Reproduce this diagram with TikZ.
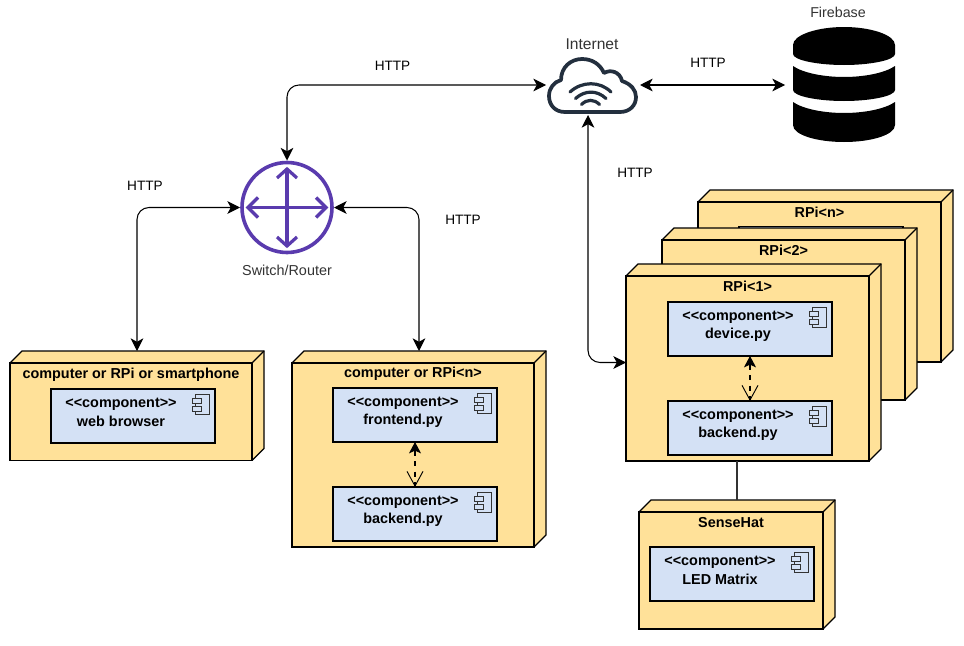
\documentclass[tikz,border=0pt]{standalone}
\usepackage{fontspec}
\setmainfont{Liberation Sans}[Ligatures=NoCommon]
\usetikzlibrary{arrows.meta,fit,calc}
\definecolor{nodeyellow}{HTML}{FFE199}
\definecolor{compblue}{HTML}{D4E1F5}
\definecolor{cloudink}{HTML}{232F3E}
\definecolor{routerink}{HTML}{5A3BAE}
\definecolor{softink}{HTML}{333333}
\tikzset{
  x=0.75pt,y=-0.75pt,
  every node/.style={inner sep=0pt,outer sep=0pt},
  frontface/.style={draw=black,fill=nodeyellow,line width=0.95pt,line join=miter},
  compbox/.style={draw=black,fill=compblue,line width=0.95pt},
  anchorbox/.style={inner sep=0pt,outer sep=0pt},
  icon/.style={draw=softink,fill=compblue,line width=0.75pt},
  boldlab/.style={font=\fontsize{10.8pt}{12pt}\selectfont\bfseries,align=center},
  plainlab/.style={font=\fontsize{10.2pt}{12pt}\selectfont,text=softink},
  httplab/.style={font=\fontsize{10.2pt}{12pt}\selectfont,text=black},
  link/.style={draw=black,line width=0.8pt,{Stealth[length=9.5pt,width=9.5pt,inset=2.6pt]}-{Stealth[length=9.5pt,width=9.5pt,inset=2.6pt]},rounded corners=9pt},
  selfdep/.style={draw=black,line width=0.8pt,dash pattern=on 4pt off 4pt,{Stealth[length=8.5pt,width=9pt,inset=2pt]}-{Straight Barb[length=11pt,width=12pt,line width=0.7pt]}},
  plainlink/.style={draw=softink,line width=0.8pt},
}
% [label offset], name, left, top, right, bottom, label
\newcommand{\depl}[7][10.5]{%
  \fill[nodeyellow] (#3,#4) -- (#3+12,#4-12) -- (#5+12,#4-12) -- (#5+12,#6-12) -- (#5,#6) -- cycle;
  \draw[frontface,fill=none] (#3,#4) -- (#3+12,#4-12) -- (#5+12,#4-12) -- (#5+12,#6-12) -- (#5,#6);
  \draw[frontface,fill=none] (#5,#4) -- (#5+12,#4-12);
  \draw[frontface] (#3,#4) rectangle (#5,#6);
  \node[anchorbox,fit={(#3,#4-12) (#5+12,#6)}] (#2) {};
  \node[boldlab] (#2lab) at ({(#3+#5)/2},#4+#1) {#7};
}
% name, left, top, second text
\newcommand{\comp}[4]{%
  \node[compbox,anchor=north west,minimum width=123pt,minimum height=40.5pt] (#1) at (#2,#3) {};
  \node[boldlab] (#1a) at (#2+70,#3+15.5) {{<}{<}component{>}{>}};
  \node[boldlab] (#1b) at (#2+70,#3+32.5) {#4};
  \draw[icon] (#2+144,#3+5) rectangle (#2+158,#3+25);
  \draw[icon] (#2+141,#3+9) rectangle (#2+150,#3+14);
  \draw[icon] (#2+141,#3+17) rectangle (#2+150,#3+22);
}
\begin{document}
\begin{tikzpicture}
\useasboundingbox (0,0) rectangle (964,646);
\fill[white] (0,0) rectangle (964,646);

% RPi stack, back to front
\depl{rpin}{698}{202}{941}{362}{RPi<n>}
\draw[compbox] (739,226.5) rectangle (903,300);
\depl{rpitwo}{662}{240}{905}{400}{RPi<2>}
\depl{rpione}{626}{276}{869}{461}{RPi<1>}
\comp{device}{668}{302}{device.py}
\comp{backb}{668}{401}{backend.py}

% left nodes
\depl[12]{web}{10}{363}{252}{460.5}{computer or RPi or smartphone}
\comp{browser}{51}{389}{web browser}
\depl{comp}{292}{363}{534}{547}{computer or RPi<n>}
\comp{front}{333}{388}{frontend.py}
\comp{backa}{333}{487}{backend.py}

% SenseHat
\depl{sense}{639}{512}{823}{629}{SenseHat}
\comp{led}{650}{547}{LED Matrix}

% Router
\node[circle,draw=routerink,line width=2.7pt,minimum size=67.5pt,outer sep=1.5pt] (router) at (287,207.5) {};
\draw[routerink,line width=2.4pt] (287,169) -- (287,246) (248,207.5) -- (326,207.5);
\draw[routerink,line width=2.4pt] (277,178) -- (287,169) -- (297,178)
  (277,237) -- (287,246) -- (297,237)
  (258,197.5) -- (248,207.5) -- (258,217.5)
  (316,197.5) -- (326,207.5) -- (316,217.5);
\node[plainlab,font=\fontsize{10.8pt}{12pt}\selectfont] (routerlab) at (287,270) {Switch/Router};

% Cloud
\node[anchorbox,fit={(546,55) (640,115)}] (net) {};
\coordinate (netbottom) at ([xshift=-3.75pt]net.south);
\draw[cloudink,line width=2.8pt,line join=round]
  (565,112) .. controls (555,112) and (549,105) .. (549,96)
  .. controls (549,88) and (554,82) .. (561,80)
  .. controls (561,67) and (571,59) .. (582,59)
  .. controls (592,59) and (600,64) .. (604,73)
  .. controls (611,69) and (620,72) .. (622,81)
  .. controls (631,84) and (636,90) .. (636,97)
  .. controls (636,106) and (629,112) .. (620,112) -- cycle;
\draw[cloudink,line width=2.4pt,line cap=round]
  (570,92) .. controls (582,81) and (600,81) .. (611,92)
  (575.5,98.5) .. controls (585,90) and (597,90) .. (606,98.5)
  (581.5,104.5) .. controls (587,99) and (594,99) .. (599.5,104.5);
\node[plainlab,font=\fontsize{11.7pt}{12pt}\selectfont] (netlab) at (592,44) {Internet};

% Firebase database
\node[anchorbox,fit={(785,27) (903,142)}] (db) {};
\fill[black] (793,45) .. controls (793,35) and (817,27) .. (844,27)
  .. controls (871,27) and (895,35) .. (895,45) -- (895,54)
  .. controls (895,60) and (871,65) .. (844,65)
  .. controls (817,65) and (793,60) .. (793,54) -- cycle;
\fill[black] (793,66) .. controls (803,73) and (824,77) .. (844,77)
  .. controls (864,77) and (885,73) .. (895,66) -- (895,90)
  .. controls (895,96) and (871,101) .. (844,101)
  .. controls (817,101) and (793,96) .. (793,90) -- cycle;
\fill[black] (793,102) .. controls (803,109) and (824,113) .. (844,113)
  .. controls (864,113) and (885,109) .. (895,102) -- (895,125)
  .. controls (895,135) and (871,142) .. (844,142)
  .. controls (817,142) and (793,135) .. (793,125) -- cycle;
\node[plainlab,font=\fontsize{10.7pt}{12pt}\selectfont] (dblab) at (838,12) {Firebase};

% connectors
\draw[link] (router.north) |- (net.west);
\draw[link] (router.west) -| (web.north);
\draw[link] (router.east) -| (comp.north);
\draw[link] (net.east) -- (db.west |- net.east);
\draw[link] (netbottom) |- (rpione.west);
\draw[selfdep] (front.south) -- (backa.north);
\draw[selfdep] (device.south) -- (backb.north);
\draw[plainlink] (sense.north) -- (sense.north |- rpione.south);

% connector labels
\node[httplab] (h1) at (392.5,66) {HTTP};
\node[httplab] (h2) at (708,62.5) {HTTP};
\node[httplab] (h3) at (635,172.5) {HTTP};
\node[httplab] (h4) at (145,185.5) {HTTP};
\node[httplab] (h5) at (463,219.5) {HTTP};
\end{tikzpicture}
\end{document}
